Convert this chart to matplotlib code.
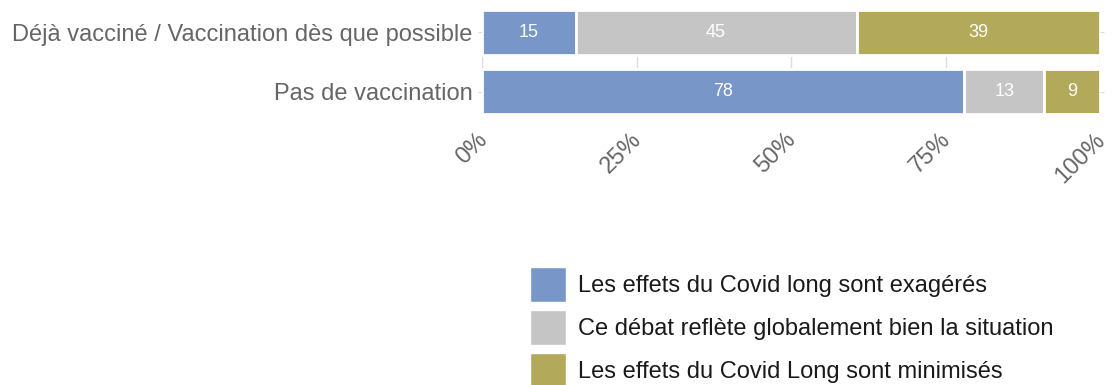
import numpy as np
import matplotlib.pyplot as plt
from matplotlib.patches import Patch
from matplotlib.ticker import PercentFormatter
from matplotlib.transforms import ScaledTranslation

plt.rcParams['font.family'] = ['Liberation Sans', 'DejaVu Sans']

groups = ['Déjà vacciné / Vaccination dès que possible', 'Pas de vaccination']
answers = ['Les effets du Covid long sont exagérés',
           'Ce débat reflète globalement bien la situation',
           'Les effets du Covid Long sont minimisés']
exageres = [15, 78]
reflete = [45, 13]
minimises = [39, 9]
colors = ['#7896c8', '#c5c5c5', '#b3a95a']

values = np.array([exageres, reflete, minimises], dtype=float)
shares = values / values.sum(axis=0) * 100   # each bar filled to 100 %

fig = plt.figure(figsize=(11.16, 3.85), dpi=100)
ax = fig.add_axes([0.4319, 1 - 113.5 / 385, 0.5538, 103 / 385])

y = np.arange(len(groups))
left = np.zeros(len(groups))
for k in range(len(answers)):
    ax.barh(y, shares[k], left=left, height=0.75, color=colors[k],
            edgecolor='white', linewidth=2, zorder=3)
    for i in range(len(groups)):
        ax.text(left[i] + shares[k][i] / 2, y[i], f"{values[k][i]:.0f}",
                ha='center', va='center', color='white', fontsize=13, zorder=4)
    left += shares[k]

ax.set_xlim(0, 100)
ax.set_ylim(1.36, -0.36)
ax.set_yticks(y, groups)
ax.set_xticks([0, 25, 50, 75, 100])
ax.xaxis.set_major_formatter(PercentFormatter(decimals=0))
ax.grid(axis='x', color='#dddddd', linewidth=1, zorder=0)
for s in ax.spines.values():
    s.set_visible(False)
ax.tick_params(axis='y', length=3, color='#dddddd', labelsize=17,
               labelcolor='#666666', right=True, pad=4)
ax.tick_params(axis='x', length=0, labelsize=17, labelcolor='#666666', pad=11)
# rotated labels, nudged left so their ends sit under the ticks
shift = ScaledTranslation(-6 / 100, 0, fig.dpi_scale_trans)
for lbl in ax.get_xticklabels():
    lbl.set_rotation(45)
    lbl.set_ha('right')
    lbl.set_rotation_mode('anchor')
    lbl.set_transform(lbl.get_transform() + shift)

handles = [Patch(facecolor=c, edgecolor='white') for c in colors]
fig.legend(handles, answers, loc='upper left', bbox_to_anchor=(0.4749, 0.3065),
           frameon=False, fontsize=17, handlelength=1.53, handleheight=1.9,
           labelspacing=0.34, handletextpad=0.51, borderpad=0, borderaxespad=0,
           labelcolor='#1a1a1a')

fig.savefig('out.png', dpi=100)
